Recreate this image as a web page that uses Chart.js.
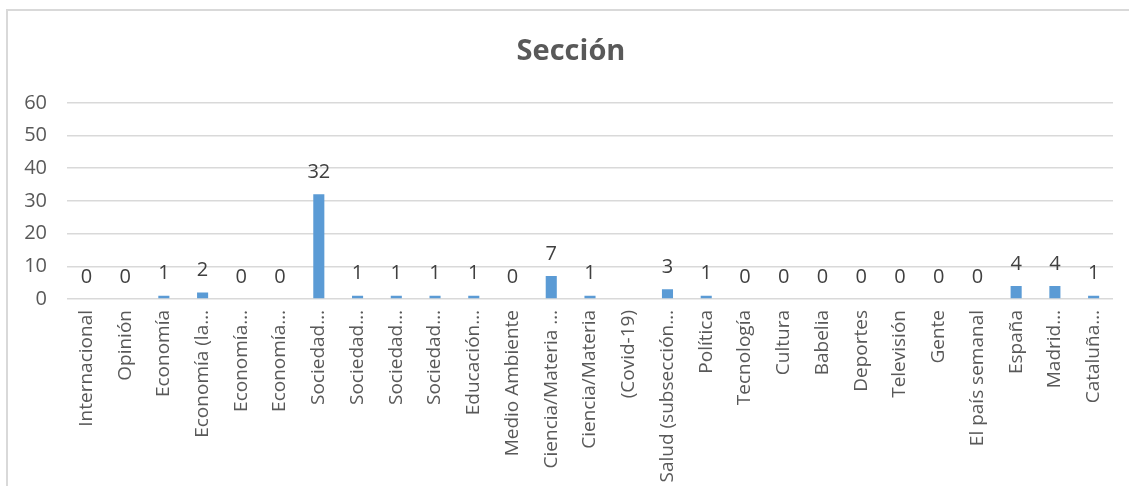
<!DOCTYPE html>
<html>
<head>
<meta charset="utf-8">
<script src="https://cdn.jsdelivr.net/npm/chart.js@4.4.1/dist/chart.umd.min.js"></script>
<style>
  html, body { margin: 0; padding: 0; background: #fff; overflow: hidden; }
  #marco { position: absolute; left: 6px; top: 9px; width: 1200px; height: 600px; border: 2px solid #d9d9d9; box-sizing: border-box; }
  canvas { position: absolute; left: 0; top: 0; }
</style>
</head>
<body>
<div id="marco"></div>
<canvas id="grafico_seccion" width="1129" height="486"></canvas>
<script>
// Datos del gráfico:
const secciones = ['Internacional', 'Opinión', 'Economía', 'Economía (la…', 'Economía…', 'Economía…',
  'Sociedad…', 'Sociedad…', 'Sociedad…', 'Sociedad…', 'Educación…', 'Medio Ambiente',
  'Ciencia/Materia …', 'Ciencia/Materia', '(Covid-19)', 'Salud (subsección…', 'Política', 'Tecnología',
  'Cultura', 'Babelia', 'Deportes', 'Televisión', 'Gente', 'El país semanal', 'España', 'Madrid…', 'Cataluña…']
const valores = [0, 0, 1, 2, 0, 0, 32, 1, 1, 1, 1, 0, 7, 1, null, 3, 1, 0, 0, 0, 0, 0, 0, 0, 4, 4, 1]
const ticks_y = [0, 10, 20, 30, 40, 50, 60]

let azul = '#5B9BD5'
let gris_texto = '#595959'
let gris_grid = '#d9d9d9'
const fuente = "'Open Sans', 'Noto Sans', sans-serif"

// Etiquetas de datos encima de cada barra
const etiquetasDatos = {
  id: 'etiquetasDatos',
  afterLayout(chart) { // Centrar el título sobre el marco y no sobre el área del gráfico
    const t = chart.titleBlock
    if (t) {
      t.left = 29
      t.right = 1113
      t.width = t.right - t.left
    }
  },
  afterDatasetsDraw(chart) {
    const ctx = chart.ctx
    const meta = chart.getDatasetMeta(0)
    ctx.save()
    ctx.font = '20px ' + fuente
    ctx.fillStyle = '#404040'
    ctx.textAlign = 'center'
    ctx.textBaseline = 'middle'
    meta.data.forEach((barra, i) => {
      const v = valores[i]
      if (v === null) return // celda vacía, sin etiqueta
      ctx.fillText(String(v), barra.x, barra.y - 22)
    })
    ctx.restore()
  }
}

const c_grafico = document.getElementById('grafico_seccion').getContext('2d')
new Chart(c_grafico, {
  type: 'bar',
  data: {
    labels: secciones,
    datasets: [{
      label: 'Sección',
      data: valores,
      backgroundColor: azul,
      barPercentage: 0.286,
      categoryPercentage: 1
    }]
  },
  options: {
    responsive: false,
    animation: false,
    layout: { padding: { left: 0, right: 16, top: 0, bottom: 0 } },
    scales: {
      x: {
        grid: { display: false, drawTicks: false },
        border: { display: false },
        ticks: {
          autoSkip: false,
          minRotation: 90,
          maxRotation: 90,
          padding: 11,
          color: gris_texto,
          font: { family: fuente, size: 19 }
        },
        afterFit(scale) { scale.height = 187 }
      },
      y: {
        min: 0,
        max: 60,
        afterBuildTicks(scale) { scale.ticks = ticks_y.map(v => ({ value: v })) },
        grid: { color: gris_grid, lineWidth: 1.5, drawTicks: false },
        border: { display: false },
        ticks: {
          padding: 20,
          color: gris_texto,
          font: { family: fuente, size: 20 }
        },
        afterFit(scale) { scale.width = 67 }
      }
    },
    plugins: {
      legend: { display: false },
      tooltip: { enabled: false },
      title: {
        display: true,
        text: 'Sección',
        color: gris_texto,
        font: { family: fuente, size: 29, weight: 'bold', lineHeight: 1.2 },
        padding: { top: 34, bottom: 34 }
      }
    }
  },
  plugins: [etiquetasDatos]
})
</script>
</body>
</html>
